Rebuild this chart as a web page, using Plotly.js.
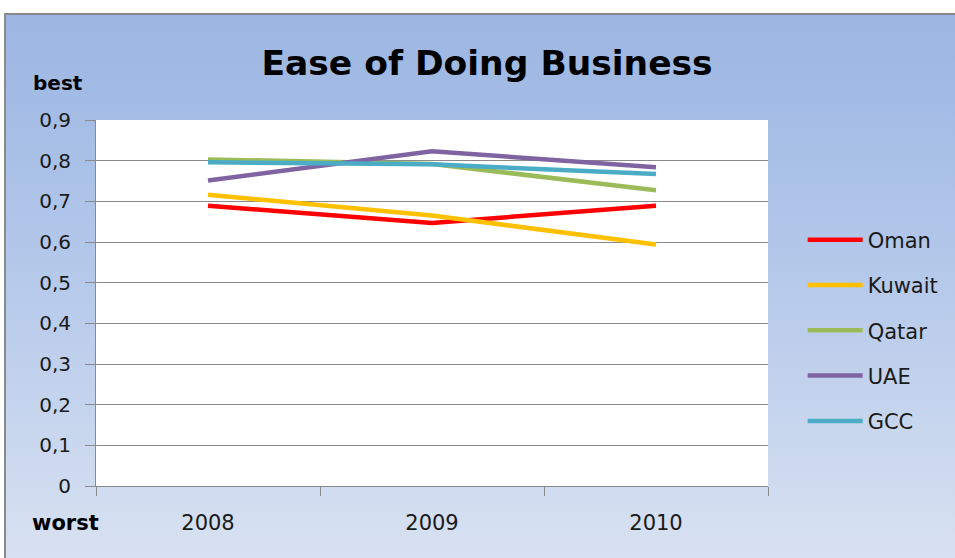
<!DOCTYPE html>
<html>
<head>
<meta charset="utf-8">
<script src="https://cdn.plot.ly/plotly-3.0.1.min.js"></script>
<style>
  html, body { margin:0; padding:0; background:#ffffff; overflow:hidden; }
  #bg { position:absolute; left:4px; top:13px; width:960px; height:560px;
        border-left:2px solid #8a8a8a; border-top:2px solid #8a8a8a;
        background: linear-gradient(to bottom, #9bb6e2 0%, #b4c8ea 45%, #dae3f2 100%); }
  #chart { position:absolute; left:0; top:0; width:955px; height:558px; }
</style>
</head>
<body>
<div id="bg"></div>
<div id="chart"></div>
<script>
const years = ['2008', '2009', '2010'];
const seriesNames = ['Oman', 'Kuwait', 'Qatar', 'UAE', 'GCC'];
const oman   = [0.689, 0.647, 0.689];
const kuwait = [0.716, 0.665, 0.594];
const qatar  = [0.803, 0.792, 0.727];
const uae    = [0.751, 0.823, 0.784];
const gcc    = [0.796, 0.791, 0.767];
const seriesColors = ['#ff0000', '#ffc000', '#9bbb59', '#8064a2', '#4bacc6'];
const yTickVals = [0, 0.1, 0.2, 0.3, 0.4, 0.5, 0.6, 0.7, 0.8, 0.9];
const yTickText = ['0', '0,1', '0,2', '0,3', '0,4', '0,5', '0,6', '0,7', '0,8', '0,9'];

const values = [oman, kuwait, qatar, uae, gcc];
const traces = values.map((v, i) => ({
  x: years, y: v, type: 'scatter', mode: 'lines', name: seriesNames[i],
  legendgroup: 'g' + i,
  line: { color: seriesColors[i], width: 4.5 }
}));

const FONT = '"DejaVu Sans", sans-serif';
const layout = {
  width: 955, height: 558,
  margin: { l: 96, r: 186, t: 120, b: 72 },
  paper_bgcolor: 'rgba(0,0,0,0)',
  plot_bgcolor: '#ffffff',
  font: { family: FONT, color: '#1a1a1a', size: 20 },
  title: { text: '<b>Ease of Doing Business</b>', x: 0.51, xanchor: 'center', y: 0.887, yanchor: 'middle',
           font: { family: FONT, size: 34.5, color: '#000000' } },
  xaxis: {
    type: 'category', range: [-0.5, 2.5], tickson: 'boundaries', ticks: 'outside', ticklen: 9,
    tickcolor: '#8a8a8a', showline: true, linecolor: '#8a8a8a', linewidth: 1,
    showgrid: false, zeroline: false, fixedrange: true, ticklabelstandoff: 18,
    tickfont: { family: FONT, size: 21, color: '#1a1a1a' }
  },
  yaxis: {
    range: [0, 0.9], tickvals: yTickVals, ticktext: yTickText, ticks: 'outside', ticklen: 10,
    tickcolor: '#8a8a8a', showline: true, linecolor: '#8a8a8a', linewidth: 1,
    showgrid: true, gridcolor: '#8a8a8a', gridwidth: 1, zeroline: false, ticklabelstandoff: 10,
    tickfont: { family: FONT, size: 20, color: '#1a1a1a' }
  },
  showlegend: true,
  legend: {
    x: 1.05, xanchor: 'left', y: 0.728, yanchor: 'top',
    bgcolor: 'rgba(0,0,0,0)', itemwidth: 55, tracegroupgap: 15,
    font: { family: FONT, size: 21, color: '#1a1a1a' }
  },
  annotations: [
    { text: '<b>best</b>', xref: 'paper', yref: 'paper', x: -0.057, y: 1.101, showarrow: false,
      xanchor: 'center', yanchor: 'middle', font: { family: FONT, size: 20, color: '#000000' } },
    { text: '<b>worst</b>', xref: 'paper', yref: 'paper', x: -0.046, y: -0.101, showarrow: false,
      xanchor: 'center', yanchor: 'middle', font: { family: FONT, size: 21, color: '#000000' } }
  ]
};

Plotly.newPlot('chart', traces, layout, { displayModeBar: false, staticPlot: true });
</script>
</body>
</html>
